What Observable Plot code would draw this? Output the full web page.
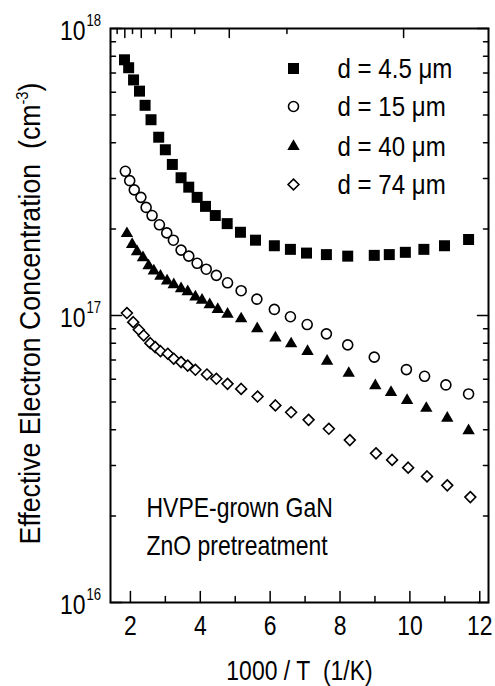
<!DOCTYPE html>
<html><head><meta charset="utf-8">
<script src="https://cdn.jsdelivr.net/npm/d3@7"></script>
<script src="https://cdn.jsdelivr.net/npm/@observablehq/plot@0.6"></script>
<style>html,body{margin:0;padding:0;background:#fff;}</style>
</head><body><div id="chart"></div>
<script>
const FONT = "'Liberation Sans',Arial,Helvetica,sans-serif";

// axis domains and ticks
const xDomain = [1.43, 12.25];
const yDomain = [1e16, 1e18];
const xMajorTicks = [2, 4, 6, 8, 10, 12];
const xMinorTicks = [3, 5, 7, 9, 11];
const yMajorTicks = [1e16, 1e17, 1e18];
const yTickExponents = ["16", "17", "18"];
const yMinorTicks = [2e16,3e16,4e16,5e16,6e16,7e16,8e16,9e16,2e17,3e17,4e17,5e17,6e17,7e17,8e17,9e17];
const topLongTicks = [1.84, 2.31, 3.17, 4.83, 9.82];
const topShortTicks = [1.62, 2.06, 2.71, 3.84, 6.48];

// series: d = 4.5 um (filled squares)
const x45 = [1.83,1.95,2.09,2.26,2.42,2.59,2.81,3.00,3.20,3.45,3.67,3.91,4.15,4.43,4.77,5.15,5.58,6.12,6.58,7.04,7.61,8.22,8.98,9.41,9.87,10.40,10.99,11.68];
const n45 = [7.78e17,7.30e17,6.62e17,6.05e17,5.40e17,4.81e17,4.18e17,3.78e17,3.36e17,3.02e17,2.80e17,2.58e17,2.40e17,2.23e17,2.09e17,1.95e17,1.83e17,1.75e17,1.70e17,1.65e17,1.63e17,1.61e17,1.62e17,1.63e17,1.66e17,1.70e17,1.75e17,1.84e17];
// d = 15 um (open circles)
const x15 = [1.855,1.98,2.11,2.30,2.45,2.62,2.83,3.04,3.23,3.45,3.67,3.91,4.17,4.46,4.78,5.17,5.62,6.12,6.58,7.06,7.61,8.22,8.98,9.90,10.42,11.03,11.68];
const n15 = [3.18e17,2.95e17,2.74e17,2.58e17,2.38e17,2.23e17,2.07e17,1.94e17,1.83e17,1.69e17,1.61e17,1.52e17,1.45e17,1.38e17,1.30e17,1.22e17,1.14e17,1.05e17,0.99e17,9.30e16,8.63e16,7.90e16,7.16e16,6.48e16,6.14e16,5.73e16,5.33e16];
// d = 40 um (filled triangles)
const x40 = [1.90,2.05,2.19,2.36,2.52,2.67,2.86,3.05,3.24,3.45,3.64,3.86,4.05,4.27,4.50,4.78,5.17,5.63,6.15,6.60,7.07,7.63,8.25,9.01,9.46,9.92,10.47,11.07,11.68];
const n40 = [1.93e17,1.77e17,1.67e17,1.59e17,1.49e17,1.43e17,1.37e17,1.32e17,1.28e17,1.24e17,1.21e17,1.16e17,1.13e17,1.09e17,1.05e17,1.01e17,9.74e16,8.99e16,8.36e16,7.97e16,7.49e16,6.93e16,6.29e16,5.70e16,5.40e16,5.06e16,4.75e16,4.39e16,3.97e16];
// d = 74 um (open diamonds)
const x74 = [1.90,2.08,2.24,2.38,2.57,2.71,2.86,3.07,3.24,3.45,3.64,3.86,4.19,4.46,4.78,5.17,5.64,6.15,6.60,7.10,7.68,8.28,9.03,9.49,9.95,10.49,11.07,11.73];
const n74 = [1.02e17,9.48e16,8.92e16,8.52e16,8.01e16,7.76e16,7.51e16,7.36e16,7.07e16,6.88e16,6.69e16,6.47e16,6.23e16,6.02e16,5.78e16,5.55e16,5.22e16,4.86e16,4.60e16,4.33e16,4.03e16,3.68e16,3.31e16,3.14e16,2.95e16,2.75e16,2.56e16,2.33e16];

const seriesLabels = ["d = 4.5 \u03bcm", "d = 15 \u03bcm", "d = 40 \u03bcm", "d = 74 \u03bcm"];
const annotationLines = ["HVPE-grown GaN", "ZnO pretreatment"];
const xLabel = "1000 / T\u00a0\u00a0(1/K)";
const yLabel = "Effective Electron Concentration\u00a0\u00a0(cm";
const yLabelExponent = "-3";

const styles = [
  {symbol: "square", r: 6.2, fill: "black", stroke: "none", strokeWidth: 0},
  {symbol: "circle", r: 5, fill: "white", stroke: "black", strokeWidth: 1.6},
  {symbol: "triangle", r: 4.6, fill: "black", stroke: "none", strokeWidth: 0},
  {symbol: "diamond2", r: 4.9, fill: "white", stroke: "black", strokeWidth: 1.6}
];
const seriesX = [x45, x15, x40, x74];
const seriesY = [n45, n15, n40, n74];

const tickShape = {draw(ctx, l) { ctx.moveTo(0, 0); ctx.lineTo(0, -l); }};
const tick = (data, opts) => Plot.vector(data, {shape: tickShape, anchor: "start", stroke: "black", strokeWidth: 1.5, ...opts});
const txt = {fontSize: 28, fill: "black", lineAnchor: "middle"};

const marks = [];
// ticks (inward)
marks.push(tick(xMajorTicks, {x: d => d, y: () => yDomain[0], rotate: 0, length: 11}));
marks.push(tick(xMinorTicks, {x: d => d, y: () => yDomain[0], rotate: 0, length: 6}));
marks.push(tick(topLongTicks, {x: d => d, y: () => yDomain[1], rotate: 180, length: 9}));
marks.push(tick(topShortTicks, {x: d => d, y: () => yDomain[1], rotate: 180, length: 5}));
marks.push(tick(yMajorTicks, {x: () => xDomain[0], y: d => d, rotate: 90, length: 11}));
marks.push(tick(yMinorTicks, {x: () => xDomain[0], y: d => d, rotate: 90, length: 5}));
marks.push(tick(yMajorTicks, {x: () => xDomain[1], y: d => d, rotate: 270, length: 11}));
marks.push(tick(yMinorTicks, {x: () => xDomain[1], y: d => d, rotate: 270, length: 5}));
marks.push(Plot.frame({stroke: "black", strokeWidth: 2}));

// data
seriesX.forEach((xs, k) => {
  const ys = seriesY[k];
  marks.push(Plot.dot(xs.map((x, i) => ({x, y: ys[i]})), {x: "x", y: "y", ...styles[k]}));
});

// legend
const legendDy = [40, 78, 118, 156];
seriesLabels.forEach((lab, k) => {
  marks.push(Plot.dot([lab], {frameAnchor: "top-left", dx: 183, dy: legendDy[k], ...styles[k]}));
  marks.push(Plot.text([lab], {frameAnchor: "top-left", dx: 227, dy: legendDy[k] + 1, text: d => d, textAnchor: "start", ...txt}));
});

// annotation
marks.push(Plot.text([annotationLines[0]], {frameAnchor: "bottom-left", dx: 36, dy: -94, text: d => d, textAnchor: "start", ...txt}));
marks.push(Plot.text([annotationLines[1]], {frameAnchor: "bottom-left", dx: 36, dy: -56, text: d => d, textAnchor: "start", ...txt}));

// tick labels
marks.push(Plot.text(xMajorTicks, {x: d => d, frameAnchor: "bottom", dy: 24, text: d => String(d), textAnchor: "middle", ...txt}));
marks.push(Plot.text(yMajorTicks, {y: d => d, frameAnchor: "left", dx: -25, dy: 3, text: () => "10", textAnchor: "end", ...txt}));
marks.push(Plot.text(yMajorTicks, {y: d => d, frameAnchor: "left", dx: -24, dy: -8, text: (d, i) => yTickExponents[i], textAnchor: "start", lineAnchor: "middle", fontSize: 16, fill: "black"}));

// axis labels
marks.push(Plot.text([xLabel], {frameAnchor: "bottom", dy: 69, text: d => d, textAnchor: "middle", ...txt}));
marks.push(Plot.text([yLabel], {frameAnchor: "left", dx: -80, dy: -2, rotate: -90, text: d => d, textAnchor: "middle", lineAnchor: "middle", fontSize: 29, fill: "black"}));

const chart = Plot.plot({
  width: 495, height: 686,
  marginLeft: 110, marginRight: 7, marginTop: 28, marginBottom: 84,
  x: {domain: xDomain, axis: null},
  y: {type: "log", domain: yDomain, axis: null},
  style: {fontFamily: FONT, background: "white", color: "black"},
  marks
});
document.getElementById("chart").appendChild(chart);

const NS = "http://www.w3.org/2000/svg";
chart.querySelectorAll("text").forEach(t => {
  const content = t.textContent;
  let s = 0.82;
  if (content.startsWith("Effective")) {
    s = 0.92;
    // superscript exponent in the y label
    const sup = document.createElementNS(NS, "tspan");
    sup.setAttribute("dy", "-12");
    sup.setAttribute("font-size", "16");
    sup.textContent = yLabelExponent;
    const close = document.createElementNS(NS, "tspan");
    close.setAttribute("dy", "12");
    close.textContent = ")";
    t.appendChild(sup);
    t.appendChild(close);
  } else if (content.startsWith("d = ")) {
    s = 0.86;
  }
  // narrow (condensed) lettering like the original figure
  t.setAttribute("transform", (t.getAttribute("transform") || "") + ` scale(${s},1)`);
});
</script></body></html>
